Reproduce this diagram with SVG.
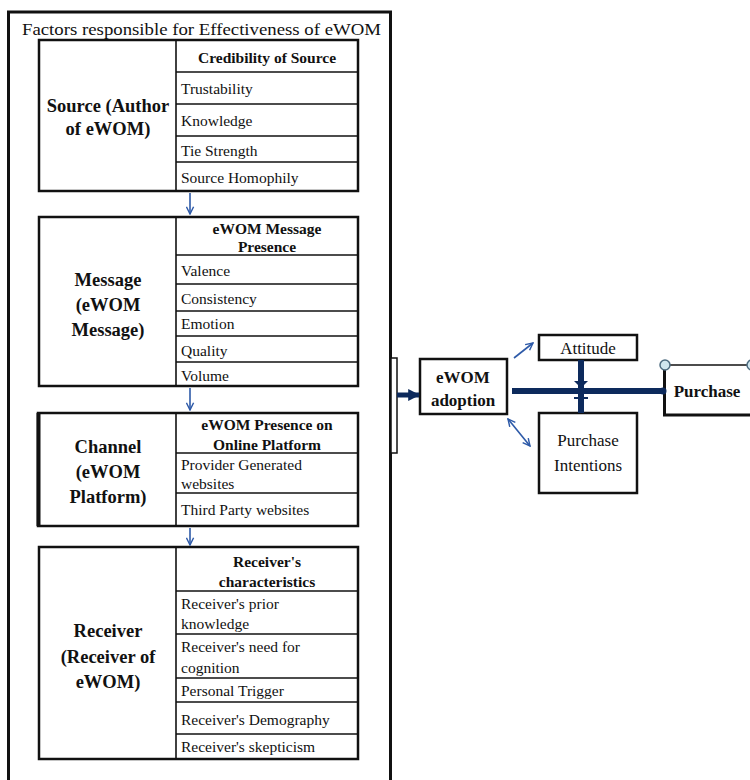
<svg xmlns="http://www.w3.org/2000/svg" width="750" height="780" viewBox="0 0 750 780">
  <style>
    .frame { fill: none; stroke: #111; stroke-width: 3; }
    .box { fill: #fff; stroke: #111; stroke-width: 2.5; }
    .row { fill: none; stroke: #111; stroke-width: 1.6; }
    .title { font-family: "Liberation Serif", "Times New Roman", serif; font-size: 17px; fill: #111; }
    .lab { font-family: "Liberation Serif", "Times New Roman", serif; font-size: 18.5px; font-weight: bold; fill: #111; text-anchor: middle; }
    .hd { font-family: "Liberation Serif", "Times New Roman", serif; font-size: 15.5px; font-weight: bold; fill: #111; text-anchor: middle; }
    .it { font-family: "Liberation Serif", "Times New Roman", serif; font-size: 15.5px; fill: #111; }
    .nd { font-family: "Liberation Serif", "Times New Roman", serif; font-size: 17px; font-weight: bold; fill: #111; text-anchor: middle; }
    .nr { font-family: "Liberation Serif", "Times New Roman", serif; font-size: 17px; fill: #111; text-anchor: middle; }
    .flow { stroke: #2e5aa8; stroke-width: 1.6; fill: none; }
    .thick { stroke: #0d2a5c; stroke-width: 6; fill: none; }
  </style>
  <defs>
    <marker id="vhead" viewBox="0 0 10 10" refX="9" refY="5" markerWidth="9" markerHeight="9" orient="auto-start-reverse" markerUnits="userSpaceOnUse">
      <path d="M1,1 L9,5 L1,9" fill="none" stroke="#2e5aa8" stroke-width="1.6"/>
    </marker>
    <marker id="solid" viewBox="0 0 10 10" refX="9" refY="5" markerWidth="12" markerHeight="12" orient="auto" markerUnits="userSpaceOnUse">
      <path d="M0,0 L10,5 L0,10 Z" fill="#0d2a5c"/>
    </marker>
  </defs>
  <rect width="750" height="780" fill="#fff"/>

  <!-- outer frame with title -->
  <g id="factors">
    <rect class="frame" x="8.5" y="12" width="382" height="800"/>
    <text class="title" x="22" y="35" textLength="359" lengthAdjust="spacingAndGlyphs">Factors responsible for Effectiveness of eWOM</text>
  </g>

  <!-- Source -->
  <g id="source">
    <rect class="box" x="39" y="40" width="319" height="151"/>
    <line class="row" x1="176" y1="40" x2="176" y2="191"/>
    <line class="row" x1="176" y1="72" x2="358" y2="72"/>
    <line class="row" x1="176" y1="104" x2="358" y2="104"/>
    <line class="row" x1="176" y1="136" x2="358" y2="136"/>
    <line class="row" x1="176" y1="162" x2="358" y2="162"/>
    <text class="lab" x="108" y="112">Source (Author</text>
    <text class="lab" x="108" y="135">of eWOM)</text>
    <text class="hd" x="267" y="63">Credibility of Source</text>
    <text class="it" x="181" y="94">Trustability</text>
    <text class="it" x="181" y="126">Knowledge</text>
    <text class="it" x="181" y="156">Tie Strength</text>
    <text class="it" x="181" y="183">Source Homophily</text>
  </g>

  <!-- Message -->
  <g id="message">
    <rect class="box" x="39" y="217" width="319" height="169"/>
    <line class="row" x1="176" y1="217" x2="176" y2="386"/>
    <line class="row" x1="176" y1="255" x2="358" y2="255"/>
    <line class="row" x1="176" y1="284" x2="358" y2="284"/>
    <line class="row" x1="176" y1="311" x2="358" y2="311"/>
    <line class="row" x1="176" y1="336" x2="358" y2="336"/>
    <line class="row" x1="176" y1="362" x2="358" y2="362"/>
    <text class="lab" x="108" y="286">Message</text>
    <text class="lab" x="108" y="311">(eWOM</text>
    <text class="lab" x="108" y="336">Message)</text>
    <text class="hd" x="267" y="234">eWOM Message</text>
    <text class="hd" x="267" y="252">Presence</text>
    <text class="it" x="181" y="276">Valence</text>
    <text class="it" x="181" y="304">Consistency</text>
    <text class="it" x="181" y="329">Emotion</text>
    <text class="it" x="181" y="356">Quality</text>
    <text class="it" x="181" y="381">Volume</text>
  </g>

  <!-- Channel -->
  <g id="channel">
    <rect class="box" x="38" y="413" width="320" height="113"/>
    <line x1="38.5" y1="413" x2="38.5" y2="526" stroke="#111" stroke-width="4"/>
    <line class="row" x1="176" y1="413" x2="176" y2="526"/>
    <line class="row" x1="176" y1="453" x2="358" y2="453"/>
    <line class="row" x1="176" y1="493" x2="358" y2="493"/>
    <text class="lab" x="108" y="453">Channel</text>
    <text class="lab" x="108" y="478">(eWOM</text>
    <text class="lab" x="108" y="503">Platform)</text>
    <text class="hd" x="267" y="430">eWOM Presence on</text>
    <text class="hd" x="267" y="450">Online Platform</text>
    <text class="it" x="181" y="470">Provider Generated</text>
    <text class="it" x="181" y="489">websites</text>
    <text class="it" x="181" y="515">Third Party websites</text>
  </g>

  <!-- Receiver -->
  <g id="receiver">
    <rect class="box" x="39" y="547" width="319" height="212"/>
    <line class="row" x1="176" y1="547" x2="176" y2="759"/>
    <line class="row" x1="176" y1="591" x2="358" y2="591"/>
    <line class="row" x1="176" y1="634" x2="358" y2="634"/>
    <line class="row" x1="176" y1="678" x2="358" y2="678"/>
    <line class="row" x1="176" y1="702" x2="358" y2="702"/>
    <line class="row" x1="176" y1="734" x2="358" y2="734"/>
    <text class="lab" x="108" y="637">Receiver</text>
    <text class="lab" x="108" y="663">(Receiver of</text>
    <text class="lab" x="108" y="688">eWOM)</text>
    <text class="hd" x="267" y="567">Receiver's</text>
    <text class="hd" x="267" y="587">characteristics</text>
    <text class="it" x="181" y="609">Receiver's prior</text>
    <text class="it" x="181" y="629">knowledge</text>
    <text class="it" x="181" y="652">Receiver's need for</text>
    <text class="it" x="181" y="673">cognition</text>
    <text class="it" x="181" y="696">Personal Trigger</text>
    <text class="it" x="181" y="725">Receiver's Demography</text>
    <text class="it" x="181" y="752">Receiver's skepticism</text>
  </g>

  <!-- bracket on the frame edge -->
  <g id="bracket">
    <rect x="391" y="358" width="6" height="95" fill="#fff" stroke="#111" stroke-width="1.5"/>
  </g>

  <!-- eWOM adoption -->
  <g id="ewom-adoption">
    <rect class="box" x="420" y="359" width="87" height="55"/>
    <text class="nd" x="463" y="383">eWOM</text>
    <text class="nd" x="463" y="406">adoption</text>
  </g>

  <!-- Attitude -->
  <g id="attitude">
    <rect class="box" x="539" y="335" width="98" height="25"/>
    <text class="nr" x="588" y="354">Attitude</text>
  </g>

  <!-- Purchase Intentions -->
  <g id="purchase-intentions">
    <rect class="box" x="539" y="413" width="98" height="80"/>
    <text class="nr" x="588" y="446">Purchase</text>
    <text class="nr" x="588" y="471">Intentions</text>
  </g>

  <!-- Purchase -->
  <g id="purchase">
    <rect x="664" y="365" width="100" height="50" fill="#fff" stroke="none"/>
    <line x1="664" y1="365" x2="750" y2="365" stroke="#111" stroke-width="1.5"/>
    <line x1="664.5" y1="365" x2="664.5" y2="416" stroke="#111" stroke-width="3"/>
    <line x1="663" y1="415" x2="750" y2="415" stroke="#111" stroke-width="3"/>
    <circle cx="665" cy="365" r="5" fill="#cfe6ee" stroke="#4d6c80" stroke-width="1.5"/>
    <circle cx="752" cy="365" r="5" fill="#cfe6ee" stroke="#4d6c80" stroke-width="1.5"/>
    <text class="nd" x="707" y="397" font-size="18">Purchase</text>
  </g>

  <!-- connectors -->
  <g id="connectors">
    <line class="flow" x1="190" y1="193" x2="190" y2="214" marker-end="url(#vhead)"/>
    <line class="flow" x1="190" y1="388" x2="190" y2="410" marker-end="url(#vhead)"/>
    <line class="flow" x1="190" y1="528" x2="190" y2="545" marker-end="url(#vhead)"/>
    <line x1="397" y1="395" x2="419" y2="395" stroke="#0d2a5c" stroke-width="5" marker-end="url(#solid)"/>
    <line class="thick" x1="512" y1="391" x2="662" y2="391"/>
    <circle cx="663" cy="391" r="3.5" fill="#0d2a5c"/>
    <line class="thick" x1="581" y1="360" x2="581" y2="413"/>
    <path d="M574,381 L588,381 L581,388 Z" fill="#0d2a5c"/>
    <line x1="574" y1="398" x2="588" y2="398" stroke="#0d2a5c" stroke-width="2"/>
    <line class="flow" x1="514" y1="358" x2="533" y2="343" marker-end="url(#vhead)"/>
    <line class="flow" x1="508" y1="419" x2="530" y2="446" marker-start="url(#vhead)" marker-end="url(#vhead)"/>
  </g>
</svg>
